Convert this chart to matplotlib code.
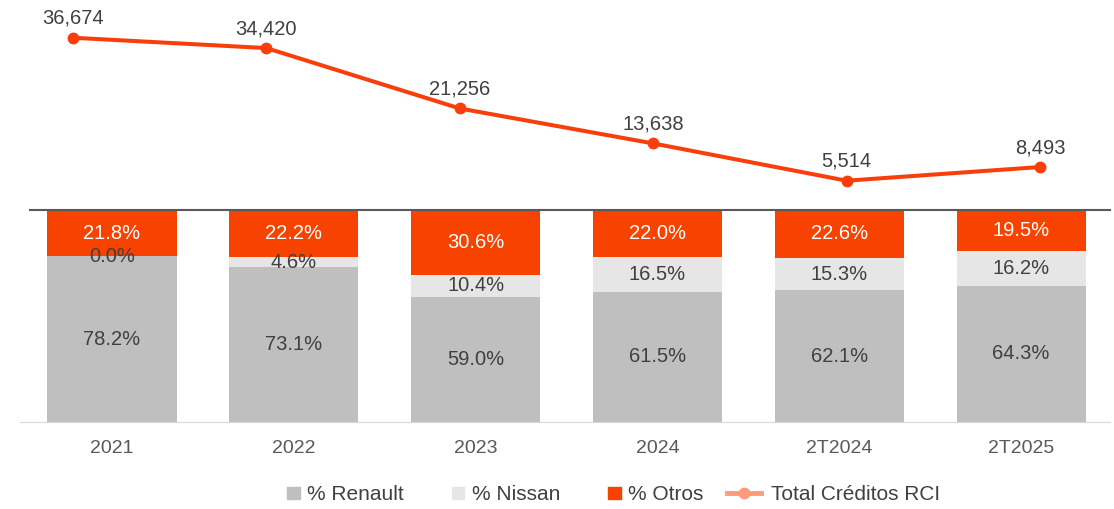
import matplotlib.pyplot as plt
from matplotlib.legend_handler import HandlerBase, HandlerPatch
from matplotlib.lines import Line2D
from matplotlib.patches import Patch, Rectangle

plt.rcParams["font.family"] = ["Liberation Sans", "DejaVu Sans"]

periodos = ["2021", "2022", "2023", "2024", "2T2024", "2T2025"]
renault = [78.2, 73.1, 59.0, 61.5, 62.1, 64.3]
nissan = [0.0, 4.6, 10.4, 16.5, 15.3, 16.2]
otros = [21.8, 22.2, 30.6, 22.0, 22.6, 19.5]
total_creditos = [36674, 34420, 21256, 13638, 5514, 8493]

C_RENAULT = "#BFBFBF"
C_NISSAN = "#E6E6E6"
C_OTROS = "#F84200"
C_LINEA = "#F93E0B"
C_TEXTO = "#404040"

W, H = 1114, 509
fig = plt.figure(figsize=(W / 100, H / 100), dpi=100)

# barras apiladas (parte de abajo)
ax_b = fig.add_axes([20 / W, 1 - 422 / H, 1090 / W, 212 / H])
x = list(range(len(periodos)))
ax_b.bar(x, renault, width=0.71, color=C_RENAULT)
ax_b.bar(x, nissan, width=0.71, bottom=renault, color=C_NISSAN)
base_otros = [r + n for r, n in zip(renault, nissan)]
ax_b.bar(x, otros, width=0.71, bottom=base_otros, color=C_OTROS)

fs = 14.5
for i in x:
    ax_b.text(i, renault[i] / 2, f"{renault[i]:.1f}%", ha="center", va="center",
              fontsize=fs, color=C_TEXTO)
    ax_b.text(i, renault[i] + nissan[i] / 2, f"{nissan[i]:.1f}%", ha="center",
              va="center", fontsize=fs, color=C_TEXTO)
    ax_b.text(i, base_otros[i] + otros[i] / 2, f"{otros[i]:.1f}%", ha="center",
              va="center", fontsize=fs, color="white")

ax_b.set_xlim(-0.506, 5.489)
ax_b.set_ylim(0, 100)
ax_b.set_yticks([])
ax_b.set_xticks(x)
ax_b.set_xticklabels(periodos, fontsize=14, color="#595959")
ax_b.tick_params(axis="x", length=0, pad=13)
for s in ["left", "right", "top"]:
    ax_b.spines[s].set_visible(False)
ax_b.spines["bottom"].set_color("#D9D9D9")
ax_b.axhline(100, xmin=10 / 1090, xmax=1.0, color="#595959", linewidth=1.5,
             clip_on=False)

# linea de total creditos (parte de arriba)
ax_l = fig.add_axes([20 / W, 1 - 206 / H, 1090 / W, 206 / H])
ax_l.plot(x, total_creditos, color=C_LINEA, linewidth=2.9, marker="o",
          markersize=7.5)
for i, v in enumerate(total_creditos):
    ax_l.annotate(f"{v:,}", (i, v), xytext=(0, 14), textcoords="offset points",
                  ha="center", va="center", fontsize=fs, color=C_TEXTO)
ax_l.set_xlim(-0.274, 5.362)
ax_l.set_ylim(0, 44900)
ax_l.axis("off")


def cuadrito(legend, orig_handle, xdescent, ydescent, width, height, fontsize):
    lado = height * 0.95
    return Rectangle((width - lado - xdescent, -ydescent + (height - lado) / 2),
                     lado, lado)


class LineaCorta(HandlerBase):
    def create_artists(self, legend, orig_handle, xdescent, ydescent, width,
                       height, fontsize, trans):
        y = height / 2 - ydescent
        x0 = width * 0.3 - xdescent
        x1 = width * 0.95 - xdescent
        linea = Line2D([x0, x1], [y, y], color=orig_handle.get_color(),
                       linewidth=orig_handle.get_linewidth(), transform=trans)
        punto = Line2D([(x0 + x1) / 2], [y], color=orig_handle.get_color(),
                       marker="o", markersize=orig_handle.get_markersize(),
                       linestyle="none", transform=trans)
        return [linea, punto]


linea_ley = Line2D([0], [0], color="#FF9A7A", linewidth=3.5, markersize=7.5)
handles = [Patch(color=C_RENAULT), Patch(color=C_NISSAN), Patch(color=C_OTROS),
           linea_ley]
etiquetas = ["% Renault", "% Nissan", "% Otros", "Total Créditos RCI"]
fig.legend(handles, etiquetas, loc="center", bbox_to_anchor=(594 / W, 1 - 495 / H),
           ncol=4, frameon=False, fontsize=15, handlelength=2.5,
           handleheight=0.6, handletextpad=0.35, columnspacing=0.4,
           labelcolor=C_TEXTO,
           handler_map={Patch: HandlerPatch(patch_func=cuadrito),
                        linea_ley: LineaCorta()})

fig.savefig("out.png", dpi=100)
